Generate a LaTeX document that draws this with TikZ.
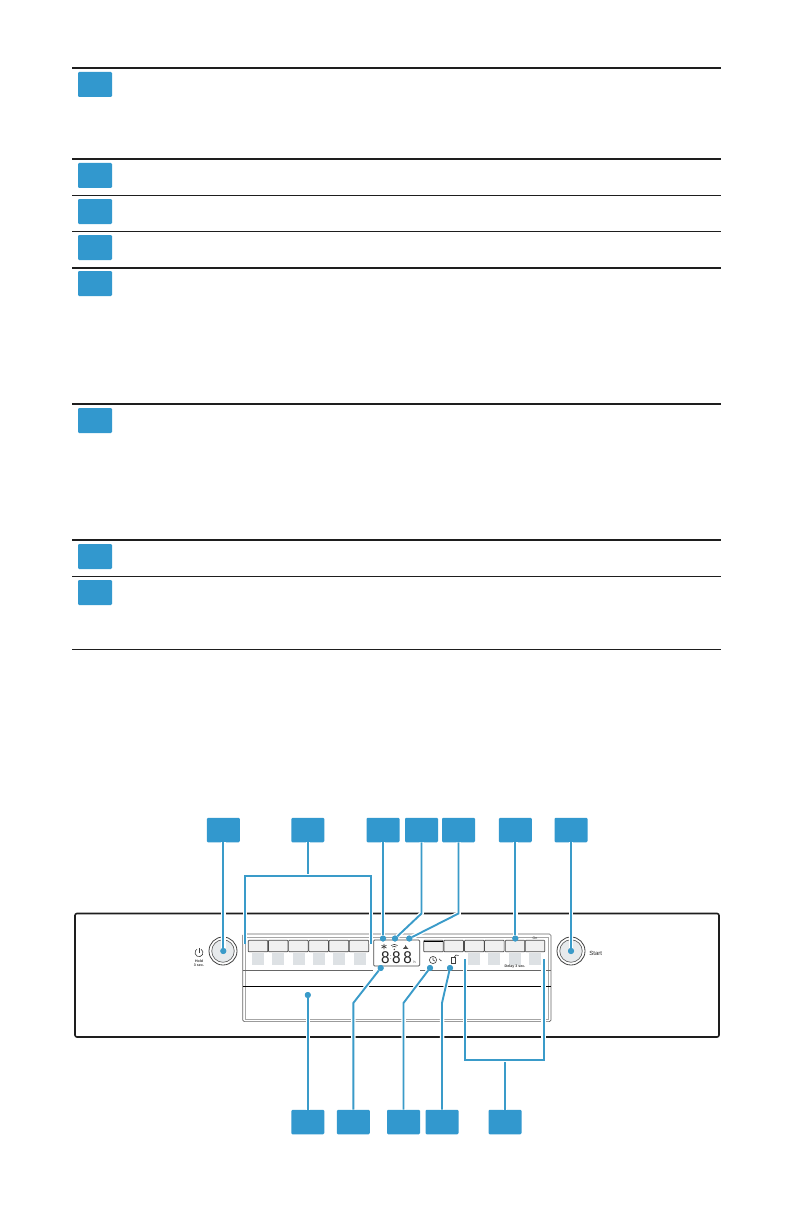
\documentclass[tikz,border=0pt]{standalone}
\usepackage{fontspec}
\setmainfont{Liberation Sans}
\definecolor{badgeblue}{RGB}{50,152,206}
\definecolor{leadblue}{RGB}{58,155,201}
\definecolor{keygray}{RGB}{221,225,228}
\definecolor{btngray}{RGB}{240,240,240}
\definecolor{ink}{RGB}{30,30,30}
\tikzset{
  badge/.style={fill=badgeblue,rounded corners=1.2pt,minimum width=33pt,minimum height=24.5pt,inner sep=0pt,draw=none},
  tbadge/.style={fill=badgeblue,rounded corners=1.2pt,minimum width=34pt,minimum height=25pt,inner sep=0pt,draw=none},
  thickrule/.style={draw=ink,line width=1.7pt},
  thinrule/.style={draw=ink,line width=0.9pt},
  lead/.style={draw=leadblue,line width=1.9pt,preaction={draw=white,line width=4.5pt}},
  leaddot/.style={circle,fill=leadblue,inner sep=0pt,minimum size=6pt},
  keybtn/.style={draw=black!70,fill=btngray,line width=0.7pt,rounded corners=0.8pt,minimum width=19.6pt,minimum height=11.5pt,inner sep=0pt},
  keysq/.style={fill=keygray,minimum width=12pt,minimum height=12pt,inner sep=0pt},
  knob/.style={circle,draw=black!75,line width=0.8pt,minimum size=28pt,inner sep=0pt},
  digit/.style={font=\fontsize{17}{17}\selectfont,inner sep=0pt,text=black!85,xscale=0.9},
  tiny/.style={font=\fontsize{3.6}{4}\selectfont,inner sep=0pt,text=black!80,align=center},
  iconline/.style={draw=black!75,line width=0.6pt},
}
\begin{document}
\begin{tikzpicture}[x=1pt,y=-1pt]
\useasboundingbox[fill=white] (0,0) rectangle (794,1225);

% table rules
\foreach \yy in {68,159,268,404,540} \draw[thickrule] (72,\yy) -- (721,\yy);
\foreach \yy in {195,231,576,649} \draw[thinrule] (72,\yy) -- (721,\yy);
% table badges
\foreach \nn/\yy in {1/84.5,2/175.5,3/211.5,4/247.5,5/283.5,6/420.5,7/556.5,8/592.5}
  \node[tbadge] (t\nn) at (95,\yy) {};

% panel
\draw[draw=ink,line width=1.6pt,rounded corners=2pt] (75,913.5) rectangle (719,1037);
\draw[draw=black!60,line width=0.7pt,rounded corners=1.5pt] (242.7,934) rectangle (551,1021.6);
\draw[draw=black!35,line width=0.6pt] (244.8,937) -- (548.7,937) -- (548.7,1019.6) -- (244.8,1019.6) -- cycle;
\draw[draw=black!60,line width=0.6pt] (243,970) -- (373,970);
\draw[draw=black!60,line width=0.6pt] (420,970) -- (551,970);
\draw[draw=black,line width=0.8pt] (243,986) -- (551,986);

% left keys
\foreach \nn/\xx in {1/258,2/278.2,3/298.4,4/318.6,5/338.8,6/359}
  \node[keybtn] (kl\nn) at (\xx,946) {};
\foreach \nn/\xx in {1/258,2/278.3,3/298.7,4/319,5/339,6/360}
  \node[keysq] (sl\nn) at (\xx,959) {};

% right keys
\foreach \nn/\xx in {1/433.5,2/453.7,3/474.3,4/494.3,5/515,6/535}
  \node[keybtn] (kr\nn) at (\xx,946) {};
\draw[draw=black,line width=1pt] (424,941.3) -- (443,941.3);
\foreach \nn/\xx in {3/474,4/494,5/515,6/535}
  \node[keysq] (sr\nn) at (\xx,959) {};

% display
\draw[draw=black!70,line width=0.7pt,rounded corners=1pt,fill=white] (373.7,940) rectangle (419.7,966);
\node[digit] (dg1) at (385.3,957.7) {8};
\node[digit] (dg2) at (396.3,957.7) {8};
\node[digit] (dg3) at (407.7,957.7) {8};
\node[font=\fontsize{7}{7}\selectfont,inner sep=0pt,text=black!70] (cln) at (390.8,957.2) {:};
\node[tiny] (unit) at (414.5,962) {h};
% display icons
\draw[iconline] (384,943.8) -- (384,949.4) (381.4,945.2) -- (386.6,948) (381.4,948) -- (386.6,945.2);
\draw[iconline] (391,945.5) .. controls (393,944) and (395.6,944) .. (397.6,945.5);
\draw[iconline] (392.3,947) .. controls (393.5,946.2) and (395.1,946.2) .. (396.3,947);
\fill[black!75] (394.3,949.3) circle (0.8);
\fill[black!70] (403,948.8) -- (408.4,948.8) -- (406.3,946.5) -- (405.6,944.8) -- (405,946.5) -- cycle;

% knobs
\node[knob] (pw) at (223,951) {};
\node[circle,draw=black!60,fill=keygray!70,line width=0.7pt,minimum size=22.5pt,inner sep=0pt] (pwi) at (223,951) {};
\node[knob] (st) at (571,951) {};
\node[circle,draw=black!60,fill=keygray!70,line width=0.7pt,minimum size=22.5pt,inner sep=0pt] (sti) at (571,951) {};

% small labels and icons
\draw[iconline] (201,949.2) arc[start angle=300,end angle=600,radius=4];
\draw[iconline] (199,948) -- (199,952.5);
\node[tiny,font=\fontsize{3.6}{4}\bfseries\selectfont] (hold) at (199,963.5) {Hold\\3 sec.};
\node[inner sep=0pt,font=\fontsize{6}{7}\selectfont,text=black!85] (starttxt) at (595.7,953) {Start};
\node[tiny,font=\fontsize{3.6}{4}\bfseries\selectfont] (delay) at (515,966.7) {Delay 3 sec.};
\node[tiny] (on) at (535,938) {On};
% clock, door
\draw[iconline] (433,960) circle (3.6);
\draw[iconline] (433,957.6) -- (433,960) -- (434.8,961);
\draw[iconline] (439,958.8) -- (441.4,961);
\draw[iconline] (451.5,957.5) -- (455.5,957.5) -- (455.5,963.5) -- (451.5,963.5) -- cycle;
\draw[iconline] (454,957.5) -- (456,955) -- (458.5,955.5);

% callout badges, top
\node[badge] (a1) at (223.3,830) {};
\node[badge] (a2) at (307.8,830) {};
\node[badge] (a3) at (383,830) {};
\node[badge] (a4) at (421.5,830) {};
\node[badge] (a5) at (458.5,830) {};
\node[badge] (a6) at (515.3,830) {};
\node[badge] (a7) at (571,830) {};
% callout badges, bottom
\node[badge] (c1) at (307.8,1122) {};
\node[badge] (c2) at (353.3,1122) {};
\node[badge] (c3) at (403.5,1122) {};
\node[badge] (c4) at (442,1122) {};
\node[badge] (c5) at (505,1122) {};

% leader end points
\node[leaddot] (d1) at (223.3,951) {};
\node[leaddot] (d3) at (383,938.5) {};
\node[leaddot] (d4) at (395,938.5) {};
\node[leaddot] (d5) at (409.3,938.5) {};
\node[leaddot] (d6) at (515.3,938.5) {};
\node[leaddot] (d7) at (571,951) {};
\node[leaddot] (e1) at (307.8,995) {};
\node[leaddot] (e2) at (380.7,968) {};
\node[leaddot] (e3) at (430,968) {};
\node[leaddot] (e4) at (450,968) {};
\coordinate (j4) at (421.5,913.5);
\coordinate (j5) at (458.5,913.5);
\coordinate (k2) at (353.3,1003);
\coordinate (k3) at (403.5,1003);
\coordinate (k4) at (442,1003);
\coordinate (tb) at (307.8,876);
\coordinate (tl) at (245,876);
\coordinate (tr) at (370.8,876);
\coordinate (tle) at (245,944);
\coordinate (tre) at (370.8,944);
\coordinate (bb) at (505,1060);
\coordinate (bl) at (465,1060);
\coordinate (br) at (543.7,1060);
\coordinate (ble) at (465,959);
\coordinate (bre) at (543.7,959);

% leaders
\path[lead] (a1) -- (d1);
\path[lead] (a2) -- (tb);
\path[lead] (tle) -- (tl) -- (tr) -- (tre);
\path[lead] (a3) -- (d3);
\path[lead] (a4) -- (j4) -- (d4);
\path[lead] (a5) -- (j5) -- (d5);
\path[lead] (a6) -- (d6);
\path[lead] (a7) -- (d7);
\path[lead] (c1) -- (e1);
\path[lead] (c2) -- (k2) -- (e2);
\path[lead] (c3) -- (k3) -- (e3);
\path[lead] (c4) -- (k4) -- (e4);
\path[lead] (c5) -- (bb);
\path[lead] (ble) -- (bl) -- (br) -- (bre);
% redraw end dots over halos
\foreach \dd in {d1,d3,d4,d5,d6,d7,e1,e2,e3,e4}
  \fill[leadblue] (\dd) circle (3);
\end{tikzpicture}
\end{document}
